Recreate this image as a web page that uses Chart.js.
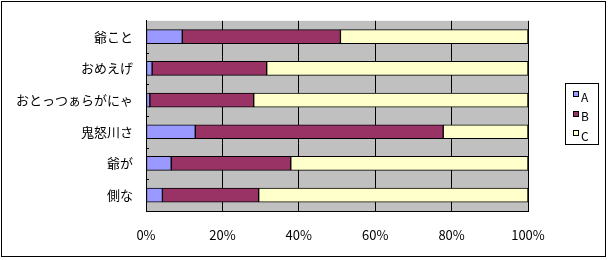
<!DOCTYPE html>
<html>
<head>
<meta charset="utf-8">
<script src="https://cdn.jsdelivr.net/npm/chart.js@4"></script>
<style>
  html, body { margin: 0; padding: 0; background: #fff; }
  #wrap { position: absolute; left: 0; top: 0; width: 608px; height: 260px; }
</style>
</head>
<body>
<div id="wrap"><canvas id="barChart" width="608" height="260"></canvas></div>
<script>
const categories = ['爺こと', 'おめえげ', 'おとっつぁらがにゃ', '鬼怒川さ', '爺が', '側な'];
const seriesNames = ['A', 'B', 'C'];
const valuesA = [9.5, 1.6, 1.0, 12.9, 6.6, 4.3];
const valuesB = [41.4, 30.0, 27.2, 64.9, 31.3, 25.2];
const valuesC = [49.1, 68.4, 71.8, 22.2, 62.1, 70.5];
const tickLabels = ['0%', '20%', '40%', '60%', '80%', '100%'];

const colors = ['#9999FF', '#993366', '#FFFFCC'];
const fontFamily = '"Noto Sans CJK JP", "Noto Sans", sans-serif';

// gray plot area + outer frame + small category ticks
const frame = {
    id: 'frame',
    beforeDraw(chart) {
        const ctx = chart.ctx;
        const a = chart.chartArea;
        ctx.save();
        ctx.fillStyle = '#C0C0C0';
        ctx.fillRect(a.left, a.top, a.right - a.left, a.bottom - a.top);
        ctx.restore();
    },
    afterDraw(chart) {
        const ctx = chart.ctx;
        const a = chart.chartArea;
        const y = chart.scales.y;
        ctx.save();
        ctx.strokeStyle = '#000';
        ctx.lineWidth = 1;
        ctx.strokeRect(1.5, 1.5, 604, 255);
        ctx.beginPath();
        for (let i = 1; i < categories.length; i++) {
            const yy = Math.round((y.getPixelForTick(i - 1) + y.getPixelForTick(i)) / 2) + 0.5;
            ctx.moveTo(a.left, yy);
            ctx.lineTo(a.left + 3, yy);
        }
        ctx.stroke();
        ctx.restore();
    }
};

// Excel-like boxed legend on the right
const boxLegend = {
    id: 'boxLegend',
    afterDraw(chart) {
        const ctx = chart.ctx;
        ctx.save();
        ctx.strokeStyle = '#000';
        ctx.lineWidth = 1;
        ctx.strokeRect(565.5, 83.5, 33, 61);
        ctx.font = '12px ' + fontFamily;
        ctx.textBaseline = 'middle';
        ctx.textAlign = 'left';
        chart.data.datasets.forEach((ds, i) => {
            const y = 91 + i * 19.5;
            ctx.fillStyle = ds.backgroundColor;
            ctx.fillRect(573, Math.round(y), 6, 6);
            ctx.strokeRect(573.5, Math.round(y) + 0.5, 5, 5);
            ctx.fillStyle = '#000';
            ctx.fillText(ds.label, 581, y + 6);
        });
        ctx.restore();
    }
};

const datasets = [valuesA, valuesB, valuesC].map((vals, i) => ({
    label: seriesNames[i],
    data: vals,
    backgroundColor: colors[i],
    borderColor: '#000',
    borderWidth: 1,
    borderSkipped: false,
    barThickness: 14
}));

const config = {
    type: 'bar',
    data: {
        labels: categories,
        datasets: datasets
    },
    options: {
        indexAxis: 'y',
        responsive: false,
        animation: false,
        layout: {
            padding: { left: 0, right: 80, top: 15, bottom: 0 }
        },
        plugins: {
            legend: { display: false },
            tooltip: { enabled: false }
        },
        scales: {
            x: {
                stacked: true,
                min: 0,
                max: 100,
                ticks: {
                    stepSize: 20,
                    padding: 16,
                    color: '#000',
                    font: { family: fontFamily, size: 13 },
                    callback: (v, i) => tickLabels[i]
                },
                grid: {
                    color: '#000',
                    drawTicks: false
                },
                border: { color: '#000' },
                afterFit: (scale) => { scale.height = 49; }
            },
            y: {
                stacked: true,
                ticks: {
                    padding: 13,
                    color: '#000',
                    font: { family: fontFamily, size: 13 }
                },
                grid: {
                    display: false,
                    drawTicks: false
                },
                border: { display: true, color: '#000' },
                afterFit: (scale) => { scale.width = 146; }
            }
        }
    },
    plugins: [frame, boxLegend]
};

const barChart = new Chart(document.querySelector('#barChart'), config);
</script>
</body>
</html>
